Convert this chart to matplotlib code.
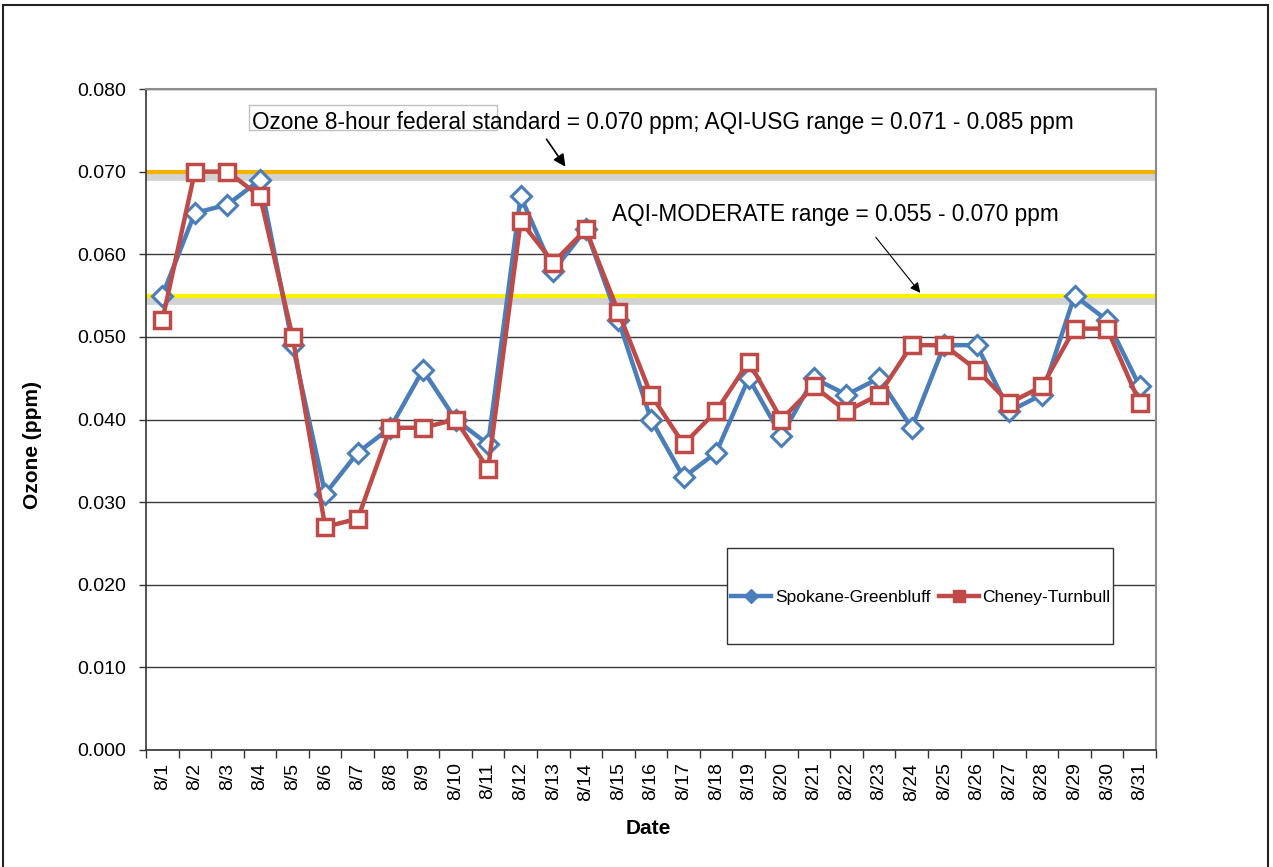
import numpy as np
import matplotlib
matplotlib.use("Agg")
import matplotlib.pyplot as plt
import matplotlib.patheffects as pe
from matplotlib.patches import Rectangle
from matplotlib.lines import Line2D

plt.rcParams['font.family'] = ['Liberation Sans', 'DejaVu Sans']

dates = ["8/%d" % d for d in range(1, 32)]
spokane = [0.055, 0.065, 0.066, 0.069, 0.049, 0.031, 0.036, 0.039, 0.046, 0.040,
           0.037, 0.067, 0.058, 0.063, 0.052, 0.040, 0.033, 0.036, 0.045, 0.038,
           0.045, 0.043, 0.045, 0.039, 0.049, 0.049, 0.041, 0.043, 0.055, 0.052, 0.044]
cheney = [0.052, 0.070, 0.070, 0.067, 0.050, 0.027, 0.028, 0.039, 0.039, 0.040,
          0.034, 0.064, 0.059, 0.063, 0.053, 0.043, 0.037, 0.041, 0.047, 0.040,
          0.044, 0.041, 0.043, 0.049, 0.049, 0.046, 0.042, 0.044, 0.051, 0.051, 0.042]
federal_std = 0.070
moderate_low = 0.055
yticks = [0.000, 0.010, 0.020, 0.030, 0.040, 0.050, 0.060, 0.070, 0.080]

W, H = 1273, 867
fig = plt.figure(figsize=(W / 100, H / 100), dpi=100)
def fx(px): return px / W
def fy(py): return 1 - py / H

ax = fig.add_axes([fx(146), fy(750), fx(1156) - fx(146), fy(89) - fy(750)])

x = np.arange(len(dates))
blue = '#4A7EBB'
red = '#BE4B48'

# reference lines with shadow
shadow = [pe.SimpleLineShadow(offset=(0, -3), shadow_color='#808080', alpha=0.35, linewidth=7),
          pe.Normal()]
ax.axhline(federal_std, color='#F2B200', lw=3, zorder=2, path_effects=shadow)
ax.axhline(moderate_low, color='#FFF200', lw=3, zorder=2, path_effects=shadow)

ax.plot(x, spokane, color=blue, lw=3.2, marker='D', markersize=10,
        markerfacecolor='white', markeredgecolor=blue, markeredgewidth=2.2,
        label='Spokane-Greenbluff', zorder=4)
ax.plot(x, cheney, color=red, lw=3.2, marker='s', markersize=11,
        markerfacecolor='white', markeredgecolor=red, markeredgewidth=2.5,
        label='Cheney-Turnbull', zorder=5)

ax.set_xlim(-0.5, len(dates) - 0.5)
ax.set_ylim(0, 0.080)
ax.set_yticks(yticks)
ax.set_yticklabels(["%.3f" % v for v in yticks], fontsize=14)
ax.yaxis.grid(True, color='#3a3a3a', lw=1)
ax.set_axisbelow(True)

ax.set_xticks(np.arange(-0.5, len(dates), 1))
ax.set_xticklabels([])
ax.set_xticks(x, minor=True)
ax.set_xticklabels(dates, minor=True, rotation=90, fontsize=14)
ax.tick_params(axis='x', which='major', length=6, width=1, direction='out', color='#333333')
ax.tick_params(axis='x', which='minor', length=0, pad=9)
ax.tick_params(axis='y', length=5, width=1, direction='out', pad=9, color='#333333')

for s in ['top', 'right']:
    ax.spines[s].set_color('#8c8c8c')
    ax.spines[s].set_linewidth(1.5)
for s in ['left', 'bottom']:
    ax.spines[s].set_color('#333333')
    ax.spines[s].set_linewidth(1.2)

fig.text(fx(33), fy(445), 'Ozone (ppm)', rotation=90, fontsize=15, fontweight='bold',
         ha='center', va='center')
fig.text(fx(648), fy(828), 'Date', fontsize=15, fontweight='bold', ha='center', va='center')

# annotation texts
fig.patches.append(Rectangle((fx(249), fy(130)), fx(497) - fx(249), fy(105) - fy(130),
                             transform=fig.transFigure, fill=False, edgecolor='#c0c0c0', lw=1))
fig.text(fx(252), fy(123), 'Ozone 8-hour federal standard = 0.070 ppm; AQI-USG range = 0.071 - 0.085 ppm',
         fontsize=16.3, ha='left', va='center')
fig.text(fx(612), fy(215), 'AQI-MODERATE range = 0.055 - 0.070 ppm',
         fontsize=16.3, ha='left', va='center')
ax.annotate('', xy=(fx(567), fy(169)), xytext=(fx(545), fy(137)),
            xycoords='figure fraction', textcoords='figure fraction',
            arrowprops=dict(arrowstyle='-|>', color='black', lw=1.2, mutation_scale=18))
ax.annotate('', xy=(fx(922), fy(295)), xytext=(fx(874), fy(235)),
            xycoords='figure fraction', textcoords='figure fraction',
            arrowprops=dict(arrowstyle='-|>', color='black', lw=0.8, mutation_scale=15))

# legend box
ax.add_patch(Rectangle((fx(727), fy(644)), fx(1113) - fx(727), fy(548) - fy(644),
                       transform=fig.transFigure, facecolor='white', edgecolor='#333333',
                       lw=1, zorder=6))
handles = [Line2D([], [], color=blue, lw=3.2, marker='D', markersize=7,
                  markerfacecolor=blue, markeredgecolor=blue),
           Line2D([], [], color=red, lw=3.2, marker='s', markersize=8,
                  markerfacecolor=red, markeredgecolor=red)]
leg = ax.legend(handles, ['Spokane-Greenbluff', 'Cheney-Turnbull'],
                loc='center', bbox_to_anchor=(fx(921), fy(597)), bbox_transform=fig.transFigure,
                ncol=2, frameon=False, fontsize=12.5, handlelength=2.3, handletextpad=0.2,
                columnspacing=0.5)
leg.set_zorder(7)

# outer frame
fig.patches.append(Rectangle((fx(3), -0.01), fx(1268) - fx(3), fy(5) + 0.01,
                             transform=fig.transFigure, fill=False, edgecolor='#222222', lw=1.5))

fig.savefig('out.png', dpi=100)
